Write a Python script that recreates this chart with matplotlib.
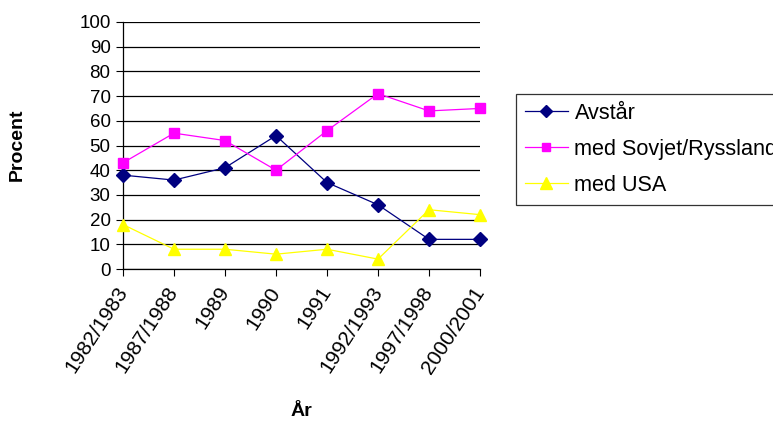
import matplotlib
matplotlib.use("Agg")
import matplotlib.pyplot as plt

plt.rcParams['font.family'] = ['Liberation Sans', 'DejaVu Sans']

years = ["1982/1983", "1987/1988", "1989", "1990", "1991",
         "1992/1993", "1997/1998", "2000/2001"]
avstar = [38, 36, 41, 54, 35, 26, 12, 12]
sovjet = [43, 55, 52, 40, 56, 71, 64, 65]
usa = [18, 8, 8, 6, 8, 4, 24, 22]

W, H = 773, 421
fig = plt.figure(figsize=(W / 100, H / 100), dpi=100)
ax = fig.add_axes([123 / W, 1 - 269 / H, (480 - 123) / W, (269 - 22) / H])

x = list(range(len(years)))
ax.plot(x, avstar, color="#000080", lw=0.9, marker="D", ms=7,
        mec="#000080", mfc="#000080", label="Avstår", clip_on=False, zorder=3)
ax.plot(x, sovjet, color="#FF00FF", lw=0.9, marker="s", ms=7,
        mec="#FF00FF", mfc="#FF00FF", label="med Sovjet/Ryssland", clip_on=False, zorder=3)
ax.plot(x, usa, color="#FFFF00", lw=0.9, marker="^", ms=9,
        mec="#FFFF00", mfc="#FFFF00", label="med USA", clip_on=False, zorder=3)

ax.set_xlim(0, len(years) - 1)
ax.set_ylim(0, 100)
ax.set_yticks(range(0, 101, 10))
ax.set_xticks(x)
ax.set_xticklabels(years, rotation=57, ha="right", va="center",
                   rotation_mode="anchor", fontsize=15)
ax.tick_params(axis="y", labelsize=13.5, direction="out", length=5, width=0.8, pad=4)
ax.tick_params(axis="x", direction="out", length=5, width=0.8, pad=9)

ax.grid(axis="y", color="black", lw=0.9)
ax.set_axisbelow(True)
for side in ("top", "right"):
    ax.spines[side].set_visible(False)
for side in ("left", "bottom"):
    ax.spines[side].set_color("black")
    ax.spines[side].set_linewidth(0.9)

fig.text(17.5 / W, 1 - 145 / H, "Procent", rotation=90, ha="center", va="center",
         fontsize=14, fontweight="bold")
fig.text(301.5 / W, 1 - 411 / H, "År", ha="center", va="center",
         fontsize=14, fontweight="bold")

# legend box runs past the right edge of the figure
leg = fig.legend(loc="upper left", bbox_to_anchor=(516 / W, 1 - 94 / H),
                 frameon=True, fancybox=False, fontsize=15.6, borderaxespad=0,
                 handlelength=2.0, handletextpad=0.3, labelspacing=0.7,
                 borderpad=0.4, markerscale=0.9)
leg.get_frame().set_edgecolor("black")
leg.get_frame().set_linewidth(0.9)

fig.savefig("out.png", dpi=100)
